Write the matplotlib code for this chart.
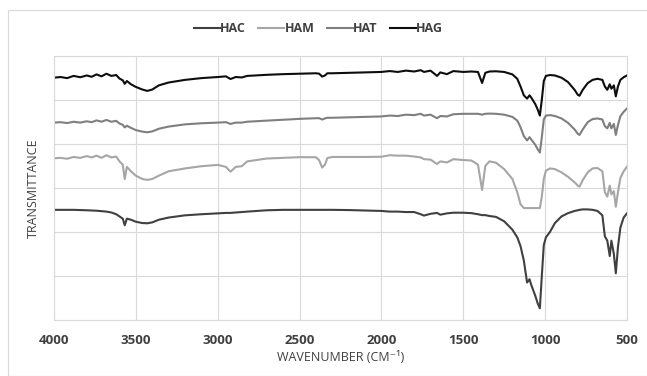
import numpy as np
import matplotlib
matplotlib.use('Agg')
import matplotlib.pyplot as plt
from matplotlib.patches import Rectangle

matplotlib.rcParams['font.family'] = ['Open Sans', 'DejaVu Sans']

wavenumber = [
    4000, 3960, 3920, 3880, 3840, 3800, 3770, 3740, 3710, 3680, 3650, 3620, 3600, 3580,
    3568, 3555, 3530, 3500, 3460, 3430, 3400, 3360, 3300, 3200, 3100, 3000, 2950, 2922,
    2890, 2853, 2820, 2700, 2600, 2500, 2400, 2380, 2362, 2345, 2330, 2300, 2200, 2100,
    2000, 1950, 1900, 1850, 1800, 1760, 1740, 1700, 1660, 1640, 1600, 1560, 1500, 1450,
    1410, 1385, 1365, 1340, 1300, 1250, 1200, 1170, 1150, 1130, 1110, 1095, 1085, 1060,
    1045, 1032, 1020, 1008, 995, 970, 940, 900, 860, 820, 800, 790, 770, 740, 710, 680,
    650, 635, 620, 605, 595, 580, 568, 555, 540, 520, 500,
]

hag = [
    110.0, 110.3, 109.8, 110.8, 110.2, 111.0, 110.4, 111.5, 110.6, 111.8, 110.8, 111.2, 109.6, 108.8,
    107.2, 108.5, 107.0, 105.8, 104.6, 104.0, 104.6, 106.5, 107.8, 109.0, 109.8, 110.3, 110.6, 109.4,
    110.3, 110.1, 110.8, 111.3, 111.6, 111.8, 112.0, 111.8, 110.5, 111.0, 112.0, 112.0, 112.2, 112.4,
    112.6, 113.0, 112.6, 113.2, 112.8, 113.4, 112.6, 113.2, 110.8, 112.4, 111.6, 113.0, 112.6, 112.8,
    112.6, 107.6, 112.2, 112.8, 112.9, 112.6, 111.5, 109.5, 106.0, 102.0, 100.5, 102.0, 101.0, 98.0,
    95.5, 92.8, 100.0, 108.5, 110.8, 111.2, 111.0, 110.0, 108.0, 104.5, 102.2, 101.8, 104.5, 107.5,
    109.0, 109.5, 109.0, 106.0, 104.5, 107.0, 105.0, 106.5, 101.5, 106.0, 109.0, 110.2, 111.0,
]

hat = [
    89.6, 89.8, 89.4, 90.0, 89.6, 90.2, 89.8, 90.6, 90.0, 90.8, 90.0, 90.4, 89.2, 88.6,
    87.4, 88.2, 87.2, 86.2, 85.5, 85.2, 85.6, 86.8, 87.8, 88.8, 89.3, 89.6, 89.8, 89.0,
    89.6, 89.6, 90.0, 90.5, 90.9, 91.3, 91.6, 91.6, 91.0, 91.5, 91.8, 91.8, 92.0, 92.2,
    92.4, 92.8, 92.6, 93.2, 93.0, 93.6, 92.8, 93.2, 91.6, 92.6, 92.4, 93.4, 93.6, 93.6,
    93.6, 93.2, 93.6, 93.7, 93.6, 93.2, 92.2, 90.5, 87.5, 83.5, 81.5, 83.0, 82.0, 79.5,
    77.5, 76.0, 83.0, 91.0, 92.8, 93.0, 92.6, 91.5, 89.5, 86.5, 84.5, 84.0, 86.5, 89.8,
    91.2, 91.5, 91.0, 88.0, 87.0, 89.5, 87.0, 89.0, 84.0, 88.5, 92.5, 94.5, 96.0,
]

ham = [
    73.4, 73.6, 73.2, 74.0, 73.6, 74.4, 73.8, 74.6, 73.6, 74.8, 73.8, 74.2, 72.0, 70.5,
    64.0, 69.5, 67.5, 65.5, 64.0, 63.6, 64.0, 65.5, 67.5, 68.8, 69.8, 70.4, 69.5, 67.3,
    69.5, 69.8, 72.0, 73.3, 73.6, 73.9, 73.9, 72.5, 69.2, 70.5, 73.5, 74.0, 74.0, 74.0,
    74.1, 74.8, 74.6, 74.6, 74.2, 73.8, 73.0, 72.8, 70.8, 72.0, 71.5, 73.0, 72.6, 72.4,
    70.5, 59.0, 70.0, 72.0, 71.4, 68.5, 64.0, 58.0, 52.5, 50.8, 50.8, 50.8, 50.8, 50.8,
    50.8, 50.8, 56.0, 64.0, 67.8, 68.8, 68.5, 67.0, 65.0, 62.5, 61.0, 60.5, 63.5, 67.0,
    68.8, 69.0, 67.5, 58.0, 56.0, 61.0, 57.0, 58.5, 51.4, 58.0, 64.5, 67.5, 69.6,
]

hac = [
    50.0, 50.0, 50.0, 50.0, 49.9, 49.8, 49.7, 49.6, 49.4, 49.2, 48.8, 48.0, 47.0, 46.0,
    43.0, 46.0, 45.5, 44.6, 44.0, 43.9, 44.3, 45.5, 46.5, 47.5, 48.0, 48.4, 48.6, 48.6,
    48.8, 49.0, 49.2, 49.8, 50.0, 50.0, 50.0, 50.0, 50.0, 50.0, 50.0, 50.0, 49.9, 49.7,
    49.5, 49.2, 49.2, 49.0, 49.0, 48.0, 47.4, 48.2, 48.6, 47.8, 48.4, 48.7, 48.7, 48.5,
    48.0, 47.6, 47.6, 47.2, 46.8, 44.8, 41.0, 37.5, 33.5, 27.0, 17.0, 18.5, 16.0, 11.0,
    7.5, 5.3, 20.0, 34.0, 37.5, 40.0, 44.0, 47.0, 48.5, 49.5, 49.8, 50.0, 50.2, 50.2,
    50.0, 49.5, 47.5, 38.0, 36.0, 29.0, 36.0, 30.0, 21.2, 33.0, 42.0, 46.5, 48.4,
]

series = [
    ('HAC', hac, '#404040'),
    ('HAM', ham, '#a6a6a6'),
    ('HAT', hat, '#7f7f7f'),
    ('HAG', hag, '#0d0d0d'),
]

fig = plt.figure(figsize=(6.47, 3.76), dpi=100)
ax = fig.add_axes([0.0835, 0.149, 0.8855, 0.703])

for name, vals, color in series:
    ax.plot(wavenumber, vals, color=color, linewidth=1.5, label=name)

ax.set_xlim(4000, 500)
ax.set_ylim(0, 120)
ax.set_xticks(np.arange(4000, 499, -500))
ax.set_yticks(np.arange(0, 121, 20))
ax.set_yticklabels([])
ax.tick_params(length=0, labelsize=9.5, colors='#404040', pad=10)
for lab in ax.get_xticklabels():
    lab.set_fontweight('bold')
ax.grid(color='#d9d9d9', linewidth=0.8)
for s in ax.spines.values():
    s.set_color('#d9d9d9')
    s.set_linewidth(0.8)

ax.set_xlabel('WAVENUMBER (CM⁻¹)', fontsize=9, color='#404040', labelpad=3)
ax.set_ylabel('TRANSMITTANCE', fontsize=9, color='#404040')
ax.yaxis.set_label_coords(-0.025, 0.5)

ax.legend(loc='center', bbox_to_anchor=(0.4616, 1.101), ncol=4, frameon=False,
          handlelength=2.1, handletextpad=0.0, columnspacing=1.0,
          labelcolor='#404040', prop={'weight': 'bold', 'size': 9})

fig.patches.append(Rectangle((8 / 647, 0), 1.0, 1 - 10 / 376, transform=fig.transFigure,
                             fill=False, edgecolor='#d9d9d9', linewidth=0.8))

fig.savefig('out.png', dpi=100)
